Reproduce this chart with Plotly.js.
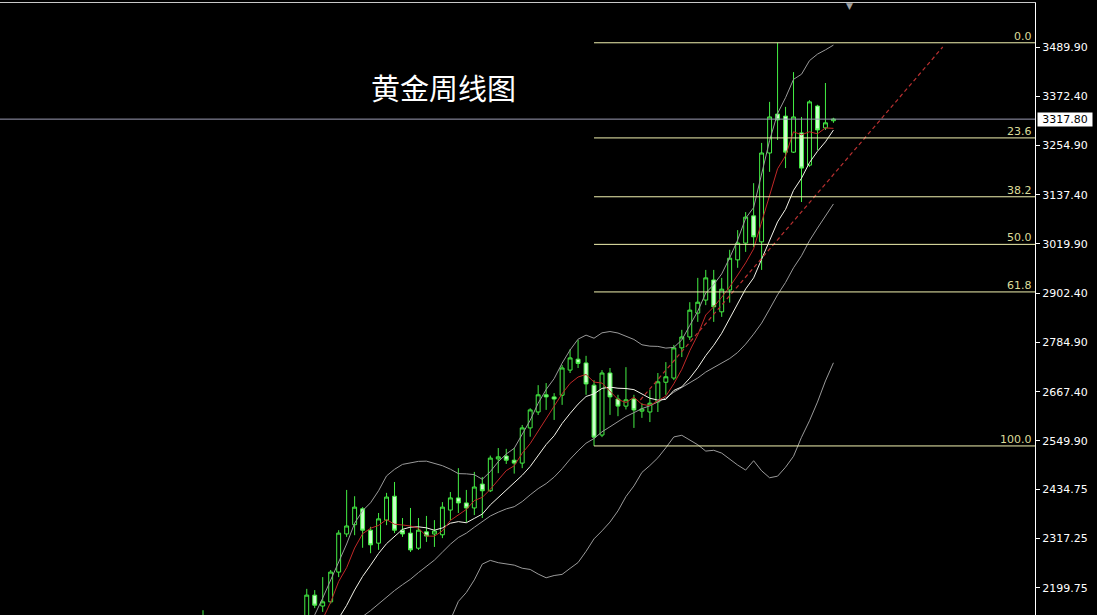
<!DOCTYPE html>
<html>
<head>
<meta charset="utf-8">
<script src="https://cdn.plot.ly/plotly-3.0.1.min.js"></script>
<style>
html,body{margin:0;padding:0;background:#000;}
#chart{width:1097px;height:615px;}
</style>
</head>
<body>
<div id="chart"></div>
<script>
// Weekly gold candles (index 0 = first week at the left edge)
const openP  = [2072,2005,2019,2053,2063,2045,2049,2029,2018,2039,2024,2013,2035,2083,2182,2156,2166,2237,2328,2350,
                2388,2337,2306,2361,2418,2337,2330,2294,2333,2328,2326,2385,2414,2402,2390,2447,2431,2507,2514,2504,
                2497,2581,2619,2660,2655,2659,2719,2745,2736,2683,2564,2712,2650,2633,2650,2621,2619,2643,2690,2700,
                2772,2798,2855,2886,2934,2858,2910,2982,3022,3087,3025,3237,3330,3325,3239,3285,3208,3349,3297,3314];
const highP  = [2146,2047,2070,2088,2078,2062,2062,2041,2065,2051,2031,2041,2088,2197,2194,2225,2242,2337,2433,2418,
                2392,2345,2378,2426,2452,2366,2390,2366,2371,2361,2404,2428,2485,2433,2476,2464,2515,2533,2531,2533,
                2588,2628,2683,2688,2664,2731,2769,2791,2753,2695,2719,2724,2660,2726,2660,2640,2672,2712,2738,2779,
                2815,2881,2939,2958,2958,2939,3006,3053,3096,3165,3261,3359,3500,3347,3430,3323,3363,3352,3404,3321];
const lowP   = [1975,1973,2016,2052,2016,2013,2002,2010,2016,2015,1984,2010,2025,2078,2151,2142,2162,2225,2321,2325,
                2295,2282,2290,2349,2330,2321,2285,2290,2309,2297,2318,2361,2378,2356,2373,2366,2428,2473,2495,2472,
                2485,2560,2612,2624,2600,2636,2712,2724,2660,2538,2559,2612,2609,2625,2581,2605,2595,2619,2660,2695,
                2750,2791,2834,2874,2834,2846,2880,2963,3001,3013,2958,3192,3268,3201,3237,3120,3204,3244,3292,3309];
const closeP = [2005,2019,2053,2063,2045,2049,2029,2018,2039,2024,2013,2035,2083,2182,2158,2166,2237,2330,2347,2392,
                2337,2302,2364,2416,2337,2328,2290,2337,2323,2335,2392,2414,2402,2390,2440,2431,2509,2512,2504,2497,
                2581,2624,2660,2655,2650,2724,2748,2735,2686,2559,2712,2655,2633,2648,2624,2626,2640,2691,2703,2772,
                2798,2862,2881,2939,2870,2912,2986,3022,3084,3037,3237,3323,3316,3239,3323,3201,3359,3292,3309,3318];

// Indicator lines
const ma5 = [null,null,null,null,2037,2045.8,2047.8,2040.8,2036,2031.8,2024.6,2025.8,2038.8,2067.4,2094.2,2124.8,2165.2,2214.6,2247.6,2294.4,
             2328.6,2341.6,2348.4,2362.2,2351.2,2349.4,2347,2341.6,2323,2322.6,2335.4,2360.2,2373.2,2386.6,2407.6,2415.4,2434.4,2456.4,2479.2,2490.6,
             2520.6,2543.6,2573.2,2603.4,2634,2662.6,2687.4,2702.4,2708.6,2690.4,2688,2669.4,2649,2641.4,2654.4,2637.2,2634.2,2645.8,2656.8,2686.4,
             2720.8,2765.2,2803.2,2850.4,2870,2892.8,2917.6,2945.8,2974.8,3008.2,3073.2,3140.6,3199.4,3230.4,3287.6,3280.4,3287.6,3282.8,3296.8,3295.8];
const ma10 = [null,null,null,null,null,null,null,null,null,2034.4,2035.2,2036.8,2039.8,2051.7,2063,2074.7,2095.5,2126.7,2157.5,2194.3,
              2226.7,2253.4,2281.5,2304.9,2322.8,2339,2344.3,2345,2342.6,2336.9,2342.4,2353.6,2357.4,2354.8,2365.1,2375.4,2397.3,2414.8,2432.9,2449.1,
              2468,2489,2514.8,2541.3,2562.3,2591.6,2615.5,2637.8,2656,2662.2,2675.3,2678.4,2675.7,2675,2672.4,2662.6,2651.8,2647.4,2649.1,2670.4,
              2679,2699.7,2724.5,2753.6,2778.2,2806.8,2841.4,2874.5,2912.6,2939.1,2983,3029.1,3072.6,3102.6,3147.9,3176.8,3214.1,3241.1,3263.6,3291.7];
const bbMid = [null,null,null,null,null,null,null,null,null,null,null,null,null,null,null,null,null,null,null,2114.4,
               2131,2145.1,2160.7,2178.3,2192.9,2206.9,2219.9,2235.9,2250.1,2265.6,2284.6,2303.5,2319.5,2329.9,2344,2357.2,2370.8,2379.9,2387.8,2393,
               2405.2,2421.3,2436.1,2448.1,2463.7,2483.5,2506.4,2526.3,2544.5,2555.7,2571.7,2583.7,2595.3,2608.2,2617.4,2627.1,2633.7,2642.6,2652.6,2666.3,
               2677.2,2689.1,2700.1,2714.3,2725.3,2734.7,2746.6,2761,2780.9,2804.8,2831,2864.4,2898.6,2928.1,2963.1,2991.8,3027.8,3057.8,3088.1,3115.4];
const bbUpper = [null,null,null,null,null,null,null,null,null,null,null,null,null,2100,2135,2175,2218,2261,2304,2353.7,
                 2383.4,2402.5,2431.1,2466.5,2482.2,2494,2497,2501.2,2501.7,2497.1,2490.9,2482.5,2471.9,2471.4,2469.5,2458.3,2476.7,2500.4,2518.7,2532.4,
                 2564.2,2599.3,2639.9,2672.7,2698.6,2735.5,2766.9,2792.8,2802.4,2795,2807.9,2811,2807.4,2799.1,2792.1,2779.4,2776.1,2775.5,2771.5,2773.1,
                 2790.9,2825.6,2859.4,2902.9,2923,2948.5,2986.9,3029.5,3081.3,3106.8,3183.3,3266.7,3331.3,3369,3412.7,3424.9,3457.4,3472.9,3483.1,3494.4];
const bbLower = [null,null,null,null,null,null,null,null,null,null,null,null,null,null,null,null,null,null,null,1875,
                 1878.5,1887.7,1890.2,1890.1,1903.6,1919.7,1942.8,1970.5,1998.4,2034.1,2078.2,2124.5,2167,2188.3,2218.4,2256.1,2264.9,2259.4,2256.8,2253.6,
                 2246.2,2243.3,2232.3,2223.4,2228.8,2231.5,2245.9,2259.8,2286.5,2316.3,2335.4,2356.4,2383.1,2417.2,2442.6,2474.8,2491.3,2509.7,2533.6,2559.5,
                 2563.4,2552.5,2540.8,2525.7,2527.6,2520.9,2506.3,2492.4,2480.4,2502.7,2478.7,2462.1,2465.8,2487.2,2513.4,2558.7,2598.1,2642.7,2693.1,2736.4];

// Trend line (red dashed) endpoints: week index and price
const trendX = [54.8, 92.7];
const trendY = [2647.6, 3489.9];

// Fibonacci retracement
const fibHigh = 3500;
const fibLow = 2538;
const fibStartIdx = 49;
const fibLevels = [0, 23.6, 38.2, 50, 61.8, 100];
const fibLabels = ["0.0", "23.6", "38.2", "50.0", "61.8", "100.0"];

// Current price
const lastPrice = 3317.80;
const lastPriceLabel = "3317.80";

// Price axis ticks
const tickVals = [3489.90, 3372.40, 3254.90, 3137.40, 3019.90, 2902.40, 2784.90, 2667.40, 2549.90, 2434.75, 2317.25, 2199.75];
const tickText = ["3489.90","3372.40","3254.90","3137.40","3019.90","2902.40","2784.90","2667.40","2549.90","2434.75","2317.25","2199.75"];

const chartTitle = "黄金周线图";

const weekIdx = closeP.map((_, i) => i);
const xRange = [-25.44, 104.26];
const yRange = [2134.6, 3594.9];

const traces = [];

traces.push({
  type: 'candlestick',
  x: weekIdx, open: openP, high: highP, low: lowP, close: closeP,
  increasing: {line: {color: '#44ee44', width: 1}, fillcolor: '#000000'},
  decreasing: {line: {color: '#44ee44', width: 1}, fillcolor: '#ccffcc'},
  hoverinfo: 'skip'
});

const bbStyle = {color: '#9a9a9a', width: 1};
[bbUpper, bbMid, bbLower].forEach(arr => traces.push({
  type: 'scatter', mode: 'lines', x: weekIdx, y: arr, line: bbStyle, hoverinfo: 'skip'
}));
traces.push({type: 'scatter', mode: 'lines', x: weekIdx, y: ma10, line: {color: '#f4f4ea', width: 1}, hoverinfo: 'skip'});
traces.push({type: 'scatter', mode: 'lines', x: weekIdx, y: ma5, line: {color: '#c02828', width: 1}, hoverinfo: 'skip'});
traces.push({type: 'scatter', mode: 'lines', x: trendX, y: trendY, line: {color: '#b83030', width: 1.2, dash: '4px,3px'}, hoverinfo: 'skip'});

// Fibonacci level lines
fibLevels.forEach(lv => {
  const p = fibHigh - (fibHigh - fibLow) * lv / 100;
  traces.push({type: 'scatter', mode: 'lines', x: [fibStartIdx, xRange[1]], y: [p, p],
    line: {color: '#f2f2b0', width: 1}, hoverinfo: 'skip', cliponaxis: true});
});

// current price line
traces.push({type: 'scatter', mode: 'lines', x: [xRange[0], xRange[1]], y: [lastPrice, lastPrice],
  line: {color: '#9c9cb4', width: 1}, hoverinfo: 'skip'});

const annotations = [];
fibLevels.forEach((lv, k) => {
  const p = fibHigh - (fibHigh - fibLow) * lv / 100;
  annotations.push({
    xref: 'paper', x: 1, xanchor: 'right', xshift: -1,
    yref: 'y', y: p, yanchor: 'bottom', yshift: -2,
    text: fibLabels[k], showarrow: false,
    font: {family: 'DejaVu Sans', size: 11, color: '#dcdc9a'}
  });
});
annotations.push({
  xref: 'paper', x: 1, xanchor: 'left', xshift: 2,
  yref: 'y', y: lastPrice, yanchor: 'middle',
  text: lastPriceLabel, showarrow: false, bgcolor: '#ffffff',
  width: 54, height: 13, borderpad: 0,
  font: {family: 'DejaVu Sans', size: 11, color: '#000000'}
});
annotations.push({
  xref: 'paper', x: 0.4285, xanchor: 'center',
  yref: 'paper', y: 0.8627, yanchor: 'middle',
  text: chartTitle, showarrow: false,
  font: {family: 'Noto Sans CJK SC', size: 29, color: '#ffffff'}
});
annotations.push({
  xref: 'paper', x: 0.8203, xanchor: 'center',
  yref: 'paper', y: 1, yanchor: 'top', yshift: 4,
  text: '▼', showarrow: false,
  font: {family: 'DejaVu Sans', size: 9, color: '#a0a0a0'}
});

const layout = {
  width: 1097, height: 615,
  paper_bgcolor: '#000000', plot_bgcolor: '#000000',
  margin: {l: 0, r: 62, t: 3, b: 0},
  showlegend: false,
  hovermode: false,
  xaxis: {
    range: xRange, side: 'top', showgrid: false, zeroline: false,
    showticklabels: false, ticks: '', showline: true, linecolor: '#c8c8c8', linewidth: 1,
    rangeslider: {visible: false}, fixedrange: true
  },
  yaxis: {
    range: yRange, side: 'right', showgrid: false, zeroline: false,
    showline: true, linecolor: '#ffffff', linewidth: 1,
    tickmode: 'array', tickvals: tickVals, ticktext: tickText,
    ticks: 'outside', ticklen: 4, tickcolor: '#ffffff', tickwidth: 1,
    tickfont: {family: 'DejaVu Sans', size: 11, color: '#ffffff'},
    fixedrange: true
  },
  annotations: annotations
};

Plotly.newPlot('chart', traces, layout, {staticPlot: true, displayModeBar: false});
</script>
</body>
</html>
